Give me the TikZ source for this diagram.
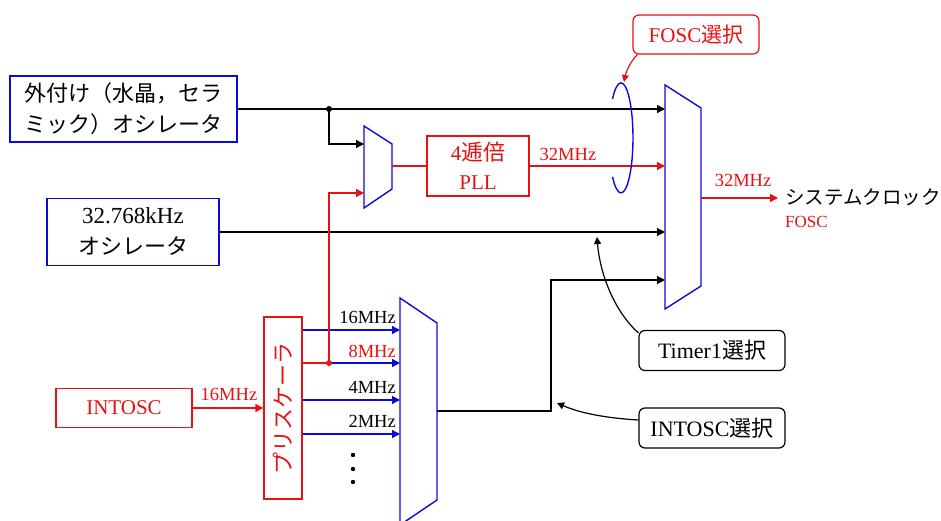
\documentclass[tikz,border=0pt]{standalone}
\usepackage{fontspec}
\usepackage{graphicx}
\setmainfont{Liberation Serif}
\newfontfamily\jpfont{Noto Sans CJK JP}
\usepackage{tikz}
\usetikzlibrary{positioning, arrows.meta, shapes.geometric}
\usepackage{xcolor}
\definecolor{muxblue}{RGB}{10,10,220}
\definecolor{sigred}{RGB}{232,16,16}

\begin{document}
\begin{tikzpicture}[
    x=1pt, y=-1pt,
    bluebox/.style={rectangle, draw=muxblue, line width=1.4pt, align=center, inner sep=0pt},
    redbox/.style={rectangle, draw=sigred, text=sigred, line width=1.4pt, align=center, inner sep=0pt},
    selbox/.style={rectangle, draw, line width=1.2pt, rounded corners=6pt, minimum width=146pt, minimum height=40pt, inner sep=0pt, font=\fontsize{22}{24}\selectfont},
    mux/.style={draw=muxblue, line width=1.4pt, line join=miter},
    wire/.style={line width=1.4pt, -{Triangle[length=8pt, width=8pt]}},
    selarrow/.style={line width=1.2pt, -{Triangle[length=7pt, width=7pt]}},
    lbl/.style={font=\fontsize{18.5}{20}\selectfont, inner sep=1pt},
    junc/.style={circle, fill, inner sep=0pt, minimum size=6pt}
]
\useasboundingbox (0,0) rectangle (941,521);

% oscillators
\node (xtal) [bluebox, minimum width=227pt, minimum height=66pt, font=\jpfont\fontsize{22}{31}\selectfont] at (123.5,109) {外付け（水晶，セラ\\ミック）オシレータ};
\node (lfosc) [bluebox, minimum width=172pt, minimum height=67pt, font=\fontsize{23}{31}\selectfont] at (133,232) {32.768kHz\\{\jpfont\fontsize{22}{31}\selectfont オシレータ}};
\node (intosc) [redbox, minimum width=136pt, minimum height=39pt, font=\fontsize{21}{24}\selectfont] at (124,408) {INTOSC};

% prescaler and PLL
\node (presc) [redbox, minimum width=38pt, minimum height=182pt, font=\jpfont\fontsize{22}{24}\selectfont] at (283,408) {\rotatebox{90}{プリスケーラ}};
\node (pll) [redbox, minimum width=102pt, minimum height=60pt, font=\fontsize{21}{29}\selectfont] at (478,166) {4{\jpfont\fontsize{22}{29}\selectfont 逓倍}\\PLL};

% multiplexers
\draw[mux] (364,126) -- (392,144) -- (392,189) -- (364,208) -- cycle;
\draw[mux] (665,85) -- (701,108) -- (701,286) -- (665,309) -- cycle;
\draw[mux] (400,298) -- (437,323) -- (437,500) -- (400,525) -- cycle;
\coordinate (m1a) at (364,144);
\coordinate (m1b) at (364,193);
\coordinate (m1o) at (392,166);
\coordinate (m4a) at (665,109);
\coordinate (m4b) at (665,166);
\coordinate (m4c) at (665,232);
\coordinate (m4d) at (665,280);
\coordinate (m4o) at (701,198);
\coordinate (m3a) at (400,330);
\coordinate (m3b) at (400,363);
\coordinate (m3c) at (400,400);
\coordinate (m3d) at (400,434);
\coordinate (m3o) at (437,411);
\coordinate (m3bend) at (551,280);
\coordinate (j1) at (329,109);
\coordinate (j2) at (329,363);

% external clock paths
\draw[wire] (xtal.east) -- (m4a);
\node[junc] at (j1) {};
\draw[wire] (j1) |- (m1a);
\draw[line width=1.4pt, sigred] (m1o) -- (pll.west);
\draw[wire, sigred] (pll.east) -- (m4b);
\node (f32a) [lbl, text=sigred] at (568,154) {32MHz};
\draw[wire] (lfosc.east) -- (m4c);

% internal clock paths
\draw[wire, sigred] (intosc.east) -- (presc.west |- intosc.east);
\node (f16in) [lbl, text=sigred] at (229,394) {16MHz};
\draw[wire, muxblue] (presc.east |- m3a) -- (m3a);
\draw[line width=1.4pt, sigred] (presc.east |- j2) -- (j2);
\draw[wire, muxblue] (j2) -- (m3b);
\draw[wire, sigred] (j2) |- (m1b);
\node[junc, sigred] at (j2) {};
\draw[wire, muxblue] (presc.east |- m3c) -- (m3c);
\draw[wire, muxblue] (presc.east |- m3d) -- (m3d);
\node (f16) [lbl, anchor=east] at (397,317) {16MHz};
\node (f8) [lbl, anchor=east, text=sigred] at (397,351) {8MHz};
\node (f4) [lbl, anchor=east] at (397,387) {4MHz};
\node (f2) [lbl, anchor=east] at (397,421) {2MHz};
\foreach \y in {455,469,482} {
    \fill (353,\y) circle[radius=2.2pt];
}
\draw[wire] (m3o) -| (m3bend) -- (m4d);

% system clock output
\node (sysclk) [anchor=west, inner sep=3pt, font=\jpfont\fontsize{19.5}{22}\selectfont] at (782,197) {システムクロック};
\node (fosc) [anchor=west, inner sep=3pt, text=sigred, font=\fontsize{17}{20}\selectfont] at (782,222) {FOSC};
\draw[wire, sigred] (m4o) -- ([xshift=-4pt]sysclk.west |- m4o);
\node (f32b) [lbl, text=sigred] at (743,180) {32MHz};

% selections
\draw[muxblue, line width=1.4pt] (612.5,99) arc[start angle=135, end angle=-135, x radius=12pt, y radius=55pt];
\node (foscsel) [selbox, draw=sigred, text=sigred, minimum width=126pt, minimum height=39pt, font=\fontsize{21}{24}\selectfont] at (696,34.5) {FOSC{\jpfont 選択}};
\node (tmrsel) [selbox] at (712,350.5) {Timer1{\jpfont 選択}};
\node (intsel) [selbox] at (712,428) {INTOSC{\jpfont 選択}};
\coordinate (bundle) at (624,82);
\coordinate (tmrpt) at (597,237);
\coordinate (intpt) at (557,403);
\draw[selarrow, sigred] ([xshift=5pt]foscsel.south west) .. controls (630,62) and (626,72) .. (bundle);
\draw[selarrow] ([yshift=-3pt]tmrsel.north west) .. controls (615,312) and (600,275) .. (tmrpt);
\draw[selarrow] ([yshift=8pt]intsel.west) .. controls (605,418) and (580,413) .. (intpt);

\end{tikzpicture}
\end{document}
